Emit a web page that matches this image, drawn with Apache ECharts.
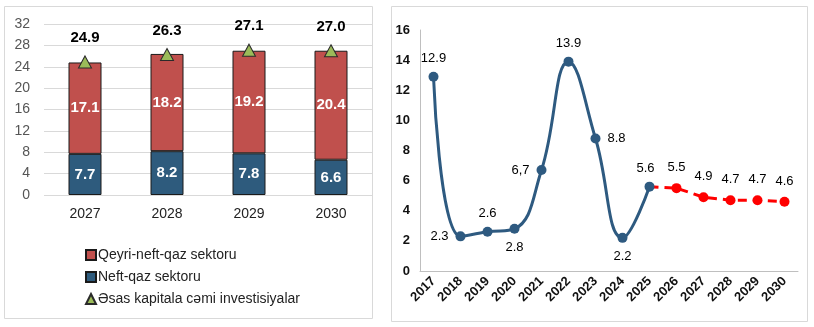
<!DOCTYPE html>
<html>
<head>
<meta charset="utf-8">
<script src="https://cdn.jsdelivr.net/npm/echarts@6/dist/echarts.min.js"></script>
<style>
  html, body { margin: 0; padding: 0; background: #fff; }
  #chart { width: 814px; height: 327px; }
</style>
</head>
<body>
<div id="chart"></div>
<script>
// Left panel: investment structure, stacked bars
var barYears = ['2027', '2028', '2029', '2030'];
var nonOilGas = [17.1, 18.2, 19.2, 20.4];
var oilGas = [7.7, 8.2, 7.8, 6.6];
var totalInvest = [24.9, 26.3, 27.1, 27.0];
var barTicks = [0, 4, 8, 12, 16, 20, 24, 28, 32];

// Right panel: growth line, actual and forecast
var lineYears = ['2017', '2018', '2019', '2020', '2021', '2022', '2023', '2024', '2025', '2026', '2027', '2028', '2029', '2030'];
var actualVals = [12.9, 2.3, 2.6, 2.8, 6.7, 13.9, 8.8, 2.2, 5.6];
var forecastVals = [5.6, 5.5, 4.9, 4.7, 4.7, 4.6];
var lineTicks = [0, 2, 4, 6, 8, 10, 12, 14, 16];

var nameRed = 'Qeyri-neft-qaz sektoru';
var nameBlue = 'Neft-qaz sektoru';
var nameTri = 'Əsas kapitala cəmi investisiyalar';

var FONT = '"Liberation Sans", Arial, sans-serif';
var RED = '#C0504D';
var BLUE = '#2E5B7D';
var LINE_BLUE = '#2E5A80';

// label placement around each actual point
var actualPos = ['top', 'left', 'top', 'bottom', 'left', 'top', 'right', 'bottom', 'top'];
var actualData = actualVals.map(function (v, i) {
  return {
    value: v,
    label: {
      position: actualPos[i],
      offset: i === 8 ? [-4, 0] : [0, 0],
      formatter: i === 4 ? String(v).replace('.', ',') : v.toFixed(1)
    }
  };
});
var lastActual = actualVals.length - 1;
var forecastData = lineYears.map(function (y, i) {
  if (i < lastActual) return '-';
  var v = forecastVals[i - lastActual];
  if (i === lastActual) {
    return { value: v, symbol: 'none', label: { show: false } };
  }
  return v;
});

var chart = echarts.init(document.getElementById('chart'), null, { renderer: 'canvas' });
chart.setOption({
  animation: false,
  textStyle: { fontFamily: FONT },
  graphic: [
    { type: 'rect', shape: { x: 4.5, y: 6.5, width: 368, height: 312 },
      style: { fill: 'none', stroke: '#d9d9d9', lineWidth: 1 } },
    { type: 'rect', shape: { x: 391.5, y: 6.5, width: 416, height: 315 },
      style: { fill: 'none', stroke: '#d9d9d9', lineWidth: 1 } }
  ],
  legend: {
    orient: 'vertical',
    left: 80,
    top: 243,
    itemWidth: 10,
    itemHeight: 10,
    itemGap: 8,
    textStyle: { fontFamily: FONT, fontSize: 14, color: '#222', padding: [0, 0, 0, -3] },
    data: [
      { name: nameRed, icon: 'rect' },
      { name: nameBlue, icon: 'rect' },
      { name: nameTri, icon: 'triangle' }
    ]
  },
  grid: [
    { left: 44, top: 24, width: 328, height: 171 },
    { left: 420, top: 30, width: 378, height: 241 }
  ],
  xAxis: [
    {
      gridIndex: 0, type: 'category', data: barYears,
      axisLine: { show: false }, axisTick: { show: false },
      axisLabel: { fontSize: 14, color: '#222', margin: 12, fontFamily: FONT }
    },
    {
      gridIndex: 1, type: 'category', data: lineYears,
      axisLine: { lineStyle: { color: '#bfbfbf', width: 1 } },
      axisTick: { show: false },
      axisLabel: { fontSize: 13, fontWeight: 'bold', color: '#111', rotate: 45, margin: 8, interval: 0, fontFamily: FONT }
    }
  ],
  yAxis: [
    {
      gridIndex: 0, type: 'value', min: barTicks[0], max: barTicks[barTicks.length - 1], interval: 4,
      axisLine: { show: false }, axisTick: { show: false },
      splitLine: { lineStyle: { color: '#d9d9d9', width: 1 } },
      axisLabel: { fontSize: 14, color: '#555', margin: 14, fontFamily: FONT }
    },
    {
      gridIndex: 1, type: 'value', min: lineTicks[0], max: lineTicks[lineTicks.length - 1], interval: 2,
      axisLine: { show: true, lineStyle: { color: '#bfbfbf', width: 1 } }, axisTick: { show: false },
      splitLine: { show: false },
      axisLabel: { fontSize: 13, fontWeight: 'bold', color: '#111', margin: 10, fontFamily: FONT }
    }
  ],
  series: [
    {
      name: nameBlue, type: 'bar', stack: 'inv', xAxisIndex: 0, yAxisIndex: 0,
      data: oilGas, barWidth: 33,
      itemStyle: { color: BLUE, borderColor: '#1a1a1a', borderWidth: 1 },
      label: { show: true, position: 'inside', color: '#fff', fontSize: 15, fontWeight: 'bold', fontFamily: FONT,
        formatter: function (p) { return p.value.toFixed(1); } }
    },
    {
      name: nameRed, type: 'bar', stack: 'inv', xAxisIndex: 0, yAxisIndex: 0,
      data: nonOilGas, barWidth: 33,
      itemStyle: { color: RED, borderColor: '#1a1a1a', borderWidth: 1 },
      label: { show: true, position: 'inside', color: '#fff', fontSize: 15, fontWeight: 'bold', fontFamily: FONT,
        formatter: function (p) { return p.value.toFixed(1); } }
    },
    {
      name: nameTri, type: 'line', xAxisIndex: 0, yAxisIndex: 0,
      data: totalInvest, symbol: 'triangle', symbolSize: [13, 12],
      lineStyle: { width: 0, opacity: 0 },
      itemStyle: { color: '#9BBB59', borderColor: '#2a2a2a', borderWidth: 1 },
      label: { show: true, position: 'top', distance: 10, color: '#000', fontSize: 15, fontWeight: 'bold', fontFamily: FONT,
        formatter: function (p) { return p.value.toFixed(1); } },
      z: 5
    },
    {
      name: 'forecast', type: 'line', xAxisIndex: 1, yAxisIndex: 1,
      data: forecastData, symbol: 'circle', symbolSize: 10,
      lineStyle: { color: '#FF0000', width: 3, type: [9, 6] },
      itemStyle: { color: '#FF0000' },
      label: { show: true, position: 'top', distance: 9, color: '#000', fontSize: 13, fontFamily: FONT,
        formatter: function (p) { return p.value.toFixed(1); } },
      z: 3
    },
    {
      name: 'actual', type: 'line', xAxisIndex: 1, yAxisIndex: 1,
      data: actualData, smooth: 0.45, symbol: 'circle', symbolSize: 10,
      lineStyle: { color: LINE_BLUE, width: 3 },
      itemStyle: { color: LINE_BLUE },
      label: { show: true, distance: 7, color: '#000', fontSize: 13, fontFamily: FONT },
      z: 4
    }
  ]
});
</script>
</body>
</html>
